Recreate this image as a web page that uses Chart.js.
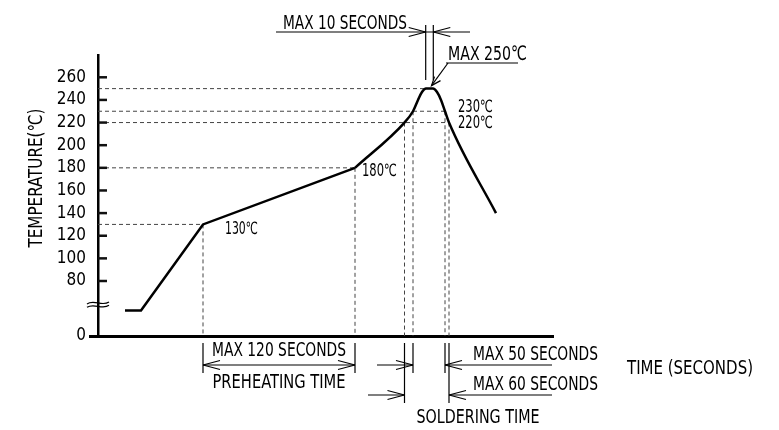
<!DOCTYPE html>
<html>
<head>
<meta charset="utf-8">
<script src="https://cdn.jsdelivr.net/npm/chart.js@4.4.1/dist/chart.umd.min.js"></script>
<style>html,body{margin:0;padding:0;background:#fff}</style>
</head>
<body>
<canvas id="profileChart" width="779" height="430"></canvas>
<script>
// Reflow profile. Time is in chart units (the drawing is not to scale),
// temperature in deg C. The first two points sit just above the axis break.
const rampTime = [27, 43, 105, 257];
const rampTemp = [54, 54, 130, 180];
const peakTime = [257, 306.5, 315, 320, 324, 328, 335, 339, 343, 347, 351, 398];
const peakTemp = [180, 220, 230, 240, 247, 250, 250, 247, 240, 230, 220, 140];

const yTicks = [80, 100, 120, 140, 160, 180, 200, 220, 240, 260];
const ZERO_AT = 31.4; // "0" is drawn here, below the break
const Y_MAX = 279.7;

// dashed guide lines
const hLevels = [250, 230, 220, 180, 130];
const hEnds   = [328, 347, 351, 257, 105];
const vTimes  = [105, 257, 306.5, 315, 347, 351];
const vTemps  = [130, 180, 220, 230, 230, 220];

const FONT = "'Liberation Sans Narrow', 'DejaVu Sans Condensed', sans-serif";

// draw text stretched/squeezed to a given width
function txt(ctx, s, x, y, w, size, align) {
  ctx.save();
  ctx.font = size + 'px ' + FONT;
  ctx.textBaseline = 'middle';
  ctx.textAlign = 'left';
  const nat = ctx.measureText(s).width;
  let left = x;
  if (align === 'center') left = x - w / 2;
  if (align === 'right') left = x - w;
  ctx.translate(left, y);
  ctx.scale(w / nat, 1);
  ctx.fillText(s, 0, 0);
  ctx.restore();
}

function line(ctx, x1, y1, x2, y2) {
  ctx.beginPath();
  ctx.moveTo(x1, y1);
  ctx.lineTo(x2, y2);
  ctx.stroke();
}

// open "V" arrow head, dir = 1 points right, -1 points left
function arrow(ctx, x, y, dir) {
  line(ctx, x, y, x - dir * 17, y - 4.5);
  line(ctx, x, y, x - dir * 17, y + 4.5);
}

const notes = {
  id: 'notes',
  beforeDatasetsDraw(chart) {
    const ctx = chart.ctx;
    const xs = chart.scales.x, ys = chart.scales.y;
    const X = v => xs.getPixelForValue(v), Y = v => ys.getPixelForValue(v);
    const y0 = Y(ZERO_AT);
    ctx.save();
    ctx.strokeStyle = '#444';
    ctx.lineWidth = 1;
    ctx.setLineDash([4, 3]);
    hLevels.forEach((t, i) => line(ctx, X(0), Y(t), X(hEnds[i]), Y(t)));
    vTimes.forEach((t, i) => line(ctx, X(t), Y(vTemps[i]), X(t), y0));
    ctx.restore();
  },
  afterDraw(chart) {
    const ctx = chart.ctx;
    const xs = chart.scales.x, ys = chart.scales.y;
    const X = v => xs.getPixelForValue(v), Y = v => ys.getPixelForValue(v);
    const y0 = Y(ZERO_AT);
    const ax = X(0);
    ctx.save();
    ctx.fillStyle = '#000';
    ctx.strokeStyle = '#000';
    ctx.lineWidth = 1.2;

    // inward tick marks
    ctx.save();
    ctx.strokeStyle = '#111';
    ctx.lineWidth = 2.5;
    for (let i = 0; i < yTicks.length; i++) {
      const ty = Y(yTicks[i]);
      ctx.beginPath();
      ctx.moveTo(ax, ty);
      ctx.lineTo(ax + 9, ty);
      ctx.stroke();
    }
    ctx.restore();

    // axis break
    [Y(60.6), Y(57.6)].forEach(by => {
      ctx.beginPath();
      ctx.moveTo(ax - 11, by + 1);
      ctx.bezierCurveTo(ax - 4, by - 4, ax + 4, by + 4, ax + 11, by - 1);
      ctx.stroke();
    });

    // axis titles
    ctx.save();
    ctx.translate(37, 178);
    ctx.rotate(-Math.PI / 2);
    txt(ctx, 'TEMPERATURE(℃)', 0, 0, 139, 19, 'center');
    ctx.restore();
    txt(ctx, 'TIME (SECONDS)', 627, 369.5, 126, 19, 'left');

    // point labels
    txt(ctx, '130℃', X(105) + 22, Y(130) + 5, 33, 17, 'left');
    txt(ctx, '180℃', X(257) + 7, Y(180) + 4, 35, 17, 'left');
    txt(ctx, '230℃', 458, Y(230) - 4, 35, 17, 'left');
    txt(ctx, '220℃', 458, Y(220) + 1, 35, 17, 'left');

    // MAX 10 SECONDS
    txt(ctx, 'MAX 10 SECONDS', 283, 23.5, 124, 20, 'left');
    line(ctx, 276, 32, 470, 32);
    const t1 = X(327.7), t2 = X(335.3);
    line(ctx, t1, 25, t1, 80);
    line(ctx, t2, 25, t2, 80);
    arrow(ctx, t1, 32, 1);
    arrow(ctx, t2, 32, -1);

    // MAX 250
    txt(ctx, 'MAX 250℃', 448, 55, 79, 20, 'left');
    line(ctx, 446, 63, 518, 63);
    const px = X(333.5), py = Y(250) - 3;
    line(ctx, 448, 63, px, py);
    ctx.beginPath();
    ctx.moveTo(px + 3, py - 9);
    ctx.lineTo(px, py);
    ctx.lineTo(px + 9, py - 5);
    ctx.stroke();

    // preheating dimension
    const p1 = X(105), p2 = X(257);
    line(ctx, p1, y0 + 7, p1, y0 + 37);
    line(ctx, p2, y0 + 7, p2, y0 + 37);
    line(ctx, p1, y0 + 29, p2, y0 + 29);
    arrow(ctx, p1, y0 + 29, -1);
    arrow(ctx, p2, y0 + 29, 1);
    txt(ctx, 'MAX 120 SECONDS', (p1 + p2) / 2, y0 + 15, 134, 19, 'center');
    txt(ctx, 'PREHEATING TIME', (p1 + p2) / 2, y0 + 47, 133, 19, 'center');

    // soldering dimensions
    const s60a = X(306.5), s50a = X(315), s50b = X(347), s60b = X(351);
    line(ctx, s60a, y0 + 7, s60a, y0 + 67);
    line(ctx, s50a, y0 + 7, s50a, y0 + 37);
    line(ctx, s50b, y0 + 7, s50b, y0 + 37);
    line(ctx, s60b, y0 + 7, s60b, y0 + 67);
    line(ctx, 377, y0 + 29, s50a, y0 + 29);
    arrow(ctx, s50a, y0 + 29, 1);
    line(ctx, s50b, y0 + 29, 552, y0 + 29);
    arrow(ctx, s50b, y0 + 29, -1);
    line(ctx, 368, y0 + 59, s60a, y0 + 59);
    arrow(ctx, s60a, y0 + 59, 1);
    line(ctx, s60b, y0 + 59, 552, y0 + 59);
    arrow(ctx, s60b, y0 + 59, -1);
    txt(ctx, 'MAX 50 SECONDS', 473, y0 + 19.5, 125, 19, 'left');
    txt(ctx, 'MAX 60 SECONDS', 473, y0 + 49, 125, 19, 'left');
    txt(ctx, 'SOLDERING TIME', 478, y0 + 82, 123, 19, 'center');

    ctx.restore();
  }
};

const toPoints = (ts, vs) => ts.map((t, i) => ({ x: t, y: vs[i] }));
const withZero = s => { s.ticks = [ZERO_AT].concat(yTicks).map(v => ({ value: v })); };

new Chart(document.getElementById('profileChart'), {
  type: 'line',
  data: {
    datasets: [{
      data: toPoints(rampTime, rampTemp),
      borderColor: '#000',
      borderWidth: 2.5,
      pointRadius: 0,
      tension: 0
    }, {
      data: toPoints(peakTime, peakTemp),
      borderColor: '#000',
      borderWidth: 2.5,
      pointRadius: 0,
      cubicInterpolationMode: 'monotone'
    }]
  },
  options: {
    responsive: false,
    devicePixelRatio: 1,
    animation: false,
    layout: { padding: { left: 40, right: 226, top: 55, bottom: 94 } },
    plugins: { legend: { display: false }, tooltip: { enabled: false } },
    scales: {
      x: {
        type: 'linear',
        min: -8,
        max: 455,
        position: { y: ZERO_AT },
        grid: { display: false },
        ticks: { display: false },
        border: { display: true, width: 3, color: '#000' }
      },
      // labels only; sits left of the plot
      y: {
        type: 'linear',
        min: ZERO_AT,
        max: Y_MAX,
        position: 'left',
        afterBuildTicks: withZero,
        afterFit: s => { s.width = 50; },
        grid: { display: false, drawTicks: false },
        border: { display: false },
        ticks: {
          padding: 4,
          color: '#000',
          font: { family: FONT, size: 17 },
          callback: v => (v === ZERO_AT ? '0' : v)
        }
      },
      // the axis line itself, at time 0
      yLine: {
        type: 'linear',
        axis: 'y',
        min: ZERO_AT,
        max: Y_MAX,
        position: { x: 0 },
        grid: { display: false, drawTicks: false },
        ticks: { display: false },
        border: { display: true, width: 2.5, color: '#000' }
      }
    }
  },
  plugins: [notes]
});
</script>
</body>
</html>
